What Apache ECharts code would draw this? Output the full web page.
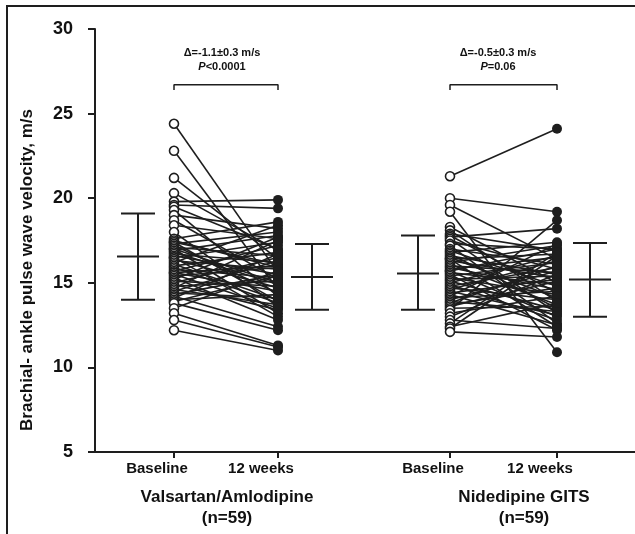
<!DOCTYPE html>
<html>
<head>
<meta charset="utf-8">
<script src="https://cdn.jsdelivr.net/npm/echarts@6/dist/echarts.min.js"></script>
<style>
  html, body { margin: 0; padding: 0; background: #fff; }
  #chart-box { width: 635px; height: 534px; }
</style>
</head>
<body>
<div id="chart-box"></div>
<script>
// x positions on the hidden value scale (about 100px per unit)
const tickX = [0.79, 1.83, 3.55, 4.62];
const tickLabels = ['Baseline', '12 weeks', 'Baseline', '12 weeks'];
const errX = [0.43, 2.17, 3.23, 4.95];

// Valsartan/Amlodipine, paired by patient
const valBaseline = [24.4, 22.8, 21.2, 20.3, 19.8, 19.6, 19.5, 19.3, 19.0, 18.7, 18.4, 18.0, 17.6, 17.5, 17.4, 17.4, 17.3, 17.2, 17.1, 17.0,
  17.0, 16.9, 16.8, 16.7, 16.6, 16.5, 16.5, 16.4, 16.3, 16.2, 16.1, 16.0, 15.9, 15.8, 15.7, 15.6, 15.6, 15.5, 15.4, 15.3,
  15.2, 15.1, 15.0, 14.9, 14.8, 14.7, 14.6, 14.5, 14.4, 14.3, 14.2, 14.1, 14.0, 13.9, 13.8, 13.5, 13.2, 12.8, 12.2];
const valWeek12 = [15.6, 14.6, 16.4, 16.9, 19.9, 19.4, 17.0, 14.2, 18.2, 15.2, 17.6, 13.6, 18.6, 15.9, 13.9, 16.1, 18.0, 14.4, 16.6, 15.0,
  13.2, 17.8, 14.9, 16.2, 15.5, 13.0, 17.4, 14.7, 15.8, 18.4, 14.0, 16.8, 13.8, 15.3, 17.2, 14.5, 16.0, 13.5, 15.9, 12.8,
  17.7, 14.8, 16.5, 13.4, 15.1, 17.5, 13.7, 16.3, 14.1, 15.5, 12.4, 16.7, 14.3, 15.4, 12.2, 15.7, 11.3, 11.2, 11.0];

// Nifedipine GITS, paired by patient
const nifBaseline = [21.3, 20.0, 19.6, 19.2, 18.3, 18.1, 17.9, 17.8, 17.7, 17.6, 17.5, 17.3, 17.2, 17.0, 16.9, 16.8, 16.7, 16.6, 16.5, 16.4,
  16.4, 16.3, 16.2, 16.1, 16.0, 15.9, 15.8, 15.7, 15.7, 15.6, 15.5, 15.4, 15.3, 15.2, 15.1, 15.0, 14.9, 14.8, 14.7, 14.6,
  14.5, 14.4, 14.3, 14.2, 14.1, 14.0, 13.9, 13.8, 13.7, 13.6, 13.5, 13.4, 13.2, 13.0, 12.8, 12.6, 12.4, 12.3, 12.1];
const nifWeek12 = [24.1, 19.2, 16.4, 10.9, 15.0, 13.9, 16.9, 14.4, 18.2, 13.2, 15.8, 17.0, 12.6, 16.1, 14.8, 17.4, 13.5, 15.5, 14.1, 16.7,
  12.4, 15.3, 17.2, 13.7, 15.6, 14.6, 16.5, 13.0, 17.0, 14.9, 12.2, 16.2, 14.3, 15.4, 13.4, 16.6, 12.8, 15.9, 14.0, 16.3,
  13.1, 15.2, 12.5, 17.3, 14.5, 15.7, 13.3, 16.0, 14.7, 15.1, 13.6, 18.7, 14.2, 15.5, 12.3, 16.8, 13.8, 16.6, 11.8];

// mean +/- SD bars: [low, mean, high]
const errLow = [14.0, 13.4, 13.4, 13.0];
const errMean = [16.55, 15.35, 15.55, 15.2];
const errHigh = [19.1, 17.3, 17.8, 17.35];

const bracketTop = 26.7;
const bracketFoot = 26.4;

const ink = '#1e1e1e';
const sans = '"Liberation Sans", Arial, sans-serif';
const narrow = '"Liberation Sans Narrow", "Liberation Sans", Arial';

function pairLines(xa, xb, a, b) {
  return a.map((v, i) => ({ coords: [[xa, v], [xb, b[i]]] }));
}
function points(x, arr) {
  return arr.map(v => [x, v]);
}
function label(x, y, text, size) {
  return {
    type: 'text', x: x, y: y,
    style: { text: text, font: 'bold ' + size + 'px ' + sans, fill: '#111', align: 'center', verticalAlign: 'middle' }
  };
}
function pLabel(x, y, rest) {
  return {
    type: 'text', x: x, y: y,
    style: {
      text: '{i|P}{n|' + rest + '}', align: 'center', verticalAlign: 'middle',
      rich: {
        i: { font: 'italic bold 11px ' + narrow, fill: '#111' },
        n: { font: 'bold 11px ' + narrow, fill: '#111' }
      }
    }
  };
}

const chartDom = document.getElementById('chart-box');
const chart = echarts.init(chartDom);

const option = {
  animation: false,
  grid: { left: 95, right: 0, top: 29, bottom: 82 },
  xAxis: {
    type: 'value',
    min: 0,
    max: 5.4,
    axisLine: { lineStyle: { color: ink, width: 2 } },
    axisTick: { show: true, customValues: tickX, length: 6, lineStyle: { color: ink, width: 2 } },
    axisLabel: {
      customValues: tickX,
      formatter: function (v) {
        const i = tickX.findIndex(t => Math.abs(t - v) < 1e-6);
        return i >= 0 ? tickLabels[i] : '';
      },
      fontFamily: sans,
      fontWeight: 'bold',
      fontSize: 15,
      color: '#111',
      margin: 9,
      padding: [0, 34, 0, 0]
    },
    splitLine: { show: false }
  },
  yAxis: {
    type: 'value',
    min: 5,
    max: 30,
    interval: 5,
    axisLine: { show: true, lineStyle: { color: ink, width: 2 } },
    axisTick: { show: true, length: 7, lineStyle: { color: ink, width: 2 } },
    axisLabel: {
      fontFamily: sans,
      fontWeight: 'bold',
      fontSize: 18,
      color: '#111',
      margin: 22
    },
    splitLine: { show: false }
  },
  graphic: [
    {
      type: 'rect', silent: true,
      shape: { x: 7, y: 6, width: 700, height: 600 },
      style: { fill: 'none', stroke: ink, lineWidth: 2 }
    },
    {
      type: 'text', x: 27, y: 270, rotation: Math.PI / 2,
      style: {
        text: 'Brachial- ankle pulse wave velocity, m/s',
        font: 'bold 17px ' + sans,
        fill: '#111', align: 'center', verticalAlign: 'middle'
      }
    },
    {
      type: 'text', x: 222, y: 53,
      style: { text: 'Δ=-1.1±0.3 m/s', font: 'bold 11px ' + narrow, fill: '#111', align: 'center', verticalAlign: 'middle' }
    },
    pLabel(222, 67, '<0.0001'),
    {
      type: 'text', x: 498, y: 53,
      style: { text: 'Δ=-0.5±0.3 m/s', font: 'bold 11px ' + narrow, fill: '#111', align: 'center', verticalAlign: 'middle' }
    },
    pLabel(498, 67, '=0.06'),
    label(227, 497, 'Valsartan/Amlodipine', 17),
    label(227, 518, '(n=59)', 17),
    label(524, 497, 'Nidedipine GITS', 17),
    label(524, 518, '(n=59)', 17)
  ],
  series: [
    {
      type: 'lines', coordinateSystem: 'cartesian2d', z: 2,
      lineStyle: { color: ink, width: 1.6, opacity: 1 },
      data: pairLines(tickX[0], tickX[1], valBaseline, valWeek12)
    },
    {
      type: 'lines', coordinateSystem: 'cartesian2d', z: 2,
      lineStyle: { color: ink, width: 1.6, opacity: 1 },
      data: pairLines(tickX[2], tickX[3], nifBaseline, nifWeek12)
    },
    {
      type: 'scatter', z: 4, symbol: 'circle', symbolSize: 9,
      itemStyle: { color: '#fff', borderColor: ink, borderWidth: 1.6, opacity: 1 },
      data: points(tickX[0], valBaseline).concat(points(tickX[2], nifBaseline))
    },
    {
      type: 'scatter', z: 4, symbol: 'circle', symbolSize: 10,
      itemStyle: { color: ink, opacity: 1 },
      data: points(tickX[1], valWeek12).concat(points(tickX[3], nifWeek12))
    },
    {
      type: 'custom', z: 3,
      renderItem: function (params, api) {
        const x = api.value(0);
        const lo = api.coord([x, api.value(1)]);
        const mid = api.coord([x, api.value(2)]);
        const hi = api.coord([x, api.value(3)]);
        const st = { stroke: ink, lineWidth: 2 };
        return {
          type: 'group',
          children: [
            { type: 'line', shape: { x1: hi[0], y1: hi[1], x2: lo[0], y2: lo[1] }, style: st },
            { type: 'line', shape: { x1: hi[0] - 17, y1: hi[1], x2: hi[0] + 17, y2: hi[1] }, style: st },
            { type: 'line', shape: { x1: lo[0] - 17, y1: lo[1], x2: lo[0] + 17, y2: lo[1] }, style: st },
            { type: 'line', shape: { x1: mid[0] - 21, y1: mid[1], x2: mid[0] + 21, y2: mid[1] }, style: st }
          ]
        };
      },
      data: errX.map((x, i) => [x, errLow[i], errMean[i], errHigh[i]])
    },
    {
      type: 'line', z: 3, symbol: 'none', silent: true,
      lineStyle: { color: ink, width: 1.5 },
      data: [[tickX[0], bracketFoot], [tickX[0], bracketTop], [tickX[1], bracketTop], [tickX[1], bracketFoot]]
    },
    {
      type: 'line', z: 3, symbol: 'none', silent: true,
      lineStyle: { color: ink, width: 1.5 },
      data: [[tickX[2], bracketFoot], [tickX[2], bracketTop], [tickX[3], bracketTop], [tickX[3], bracketFoot]]
    }
  ]
};

option && chart.setOption(option);
</script>
</body>
</html>
